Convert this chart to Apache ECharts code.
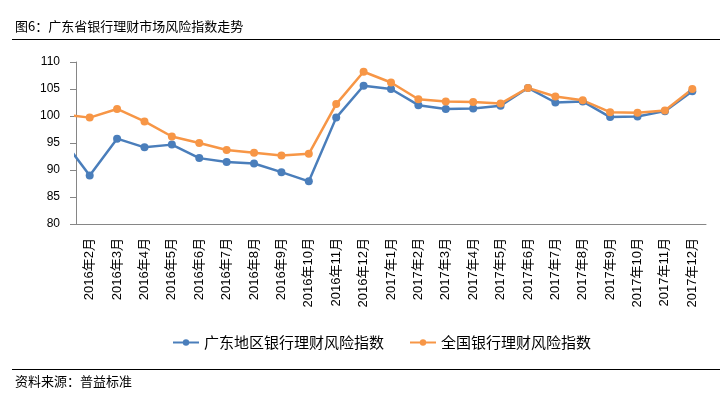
<!DOCTYPE html>
<html>
<head>
<meta charset="utf-8">
<script src="https://cdn.jsdelivr.net/npm/echarts@6/dist/echarts.min.js"></script>
<style>
  html, body { margin: 0; padding: 0; background: #fff; }
  #main { width: 720px; height: 399px; }
</style>
</head>
<body>
<div id="main"></div>
<script>
// 第一个月（2016年1月）在坐标轴左边界之外，只露出一段连线
var months = ['2016年1月', '2016年2月', '2016年3月', '2016年4月', '2016年5月', '2016年6月',
  '2016年7月', '2016年8月', '2016年9月', '2016年10月', '2016年11月', '2016年12月',
  '2017年1月', '2017年2月', '2017年3月', '2017年4月', '2017年5月', '2017年6月',
  '2017年7月', '2017年8月', '2017年9月', '2017年10月', '2017年11月', '2017年12月']
var guangdong = [95.7, 89.0, 95.8, 94.2, 94.7, 92.2, 91.5, 91.2, 89.6, 87.9, 99.7, 105.6,
  105.0, 102.0, 101.3, 101.4, 101.9, 105.2, 102.5, 102.7, 99.8, 99.9, 100.9, 104.6]
var national = [100.3, 99.7, 101.3, 99.0, 96.2, 95.0, 93.7, 93.2, 92.7, 93.0, 102.2, 108.2,
  106.2, 103.1, 102.7, 102.6, 102.3, 105.2, 103.6, 102.9, 100.7, 100.6, 101.0, 105.0]
var yTicks = [80, 85, 90, 95, 100, 105, 110]

var seriesNames = ['广东地区银行理财风险指数', '全国银行理财风险指数']
var titleText = '图6：广东省银行理财市场风险指数走势'
var sourceText = '资料来源：普益标准'

var shownMonths = months.slice(1)
// 类目中心在 i + 0.5，隐藏的第一个月落在 -0.5（被网格裁掉）
function toPoints(values) {
  return values.map(function (v, i) { return [i - 0.5, v] })
}

var myChart = echarts.init(document.getElementById('main'))
var axisColor = '#868686'
var cjk = '"Noto Sans CJK SC", sans-serif'
var latin = '"Liberation Sans", "Noto Sans CJK SC", sans-serif'

var option = {
  animation: false,
  backgroundColor: '#fff',
  title: [
    {
      text: titleText,
      left: 15,
      top: 20,
      padding: 0,
      textStyle: { fontFamily: cjk, fontSize: 13, fontWeight: 'normal', color: '#000' }
    },
    {
      text: sourceText,
      left: 15,
      top: 375,
      padding: 0,
      textStyle: { fontFamily: cjk, fontSize: 13, fontWeight: 'normal', color: '#000' }
    }
  ],
  graphic: [
    { type: 'line', shape: { x1: 12, y1: 39.5, x2: 720, y2: 39.5 }, style: { stroke: '#000', lineWidth: 1 } },
    { type: 'line', shape: { x1: 12, y1: 369.5, x2: 720, y2: 369.5 }, style: { stroke: '#000', lineWidth: 1 } }
  ],
  legend: {
    left: 167,
    top: 330,
    itemWidth: 26,
    itemHeight: 8,
    itemGap: 25,
    textStyle: { fontFamily: cjk, fontSize: 15, color: '#000' },
    data: seriesNames
  },
  grid: { left: 76, right: 14, top: 62, bottom: 175 },
  xAxis: [
    {
      type: 'category',
      data: shownMonths,
      boundaryGap: true,
      axisLine: { lineStyle: { color: axisColor, width: 1 } },
      axisTick: { length: 5, lineStyle: { color: axisColor } },
      axisLabel: {
        interval: 0,
        rotate: 90,
        margin: 14,
        fontFamily: latin,
        fontSize: 13,
        color: '#000'
      }
    },
    {
      type: 'value',
      min: 0,
      max: shownMonths.length,
      show: false
    }
  ],
  yAxis: {
    type: 'value',
    min: yTicks[0],
    max: yTicks[yTicks.length - 1],
    interval: 5,
    splitLine: { show: false },
    axisLine: { show: true, lineStyle: { color: axisColor, width: 1 } },
    axisTick: { show: true, length: 6, lineStyle: { color: axisColor } },
    axisLabel: { margin: 16, fontFamily: latin, fontSize: 12, color: '#000' }
  },
  series: [
    {
      name: seriesNames[0],
      type: 'line',
      xAxisIndex: 1,
      clip: true,
      symbol: 'circle',
      symbolSize: 8,
      itemStyle: { color: '#4A7EBB' },
      lineStyle: { width: 2.5, color: '#4A7EBB' },
      data: toPoints(guangdong)
    },
    {
      name: seriesNames[1],
      type: 'line',
      xAxisIndex: 1,
      clip: true,
      symbol: 'circle',
      symbolSize: 8,
      itemStyle: { color: '#F79646' },
      lineStyle: { width: 2.5, color: '#F79646' },
      data: toPoints(national)
    }
  ]
}
myChart.setOption(option)
</script>
</body>
</html>
